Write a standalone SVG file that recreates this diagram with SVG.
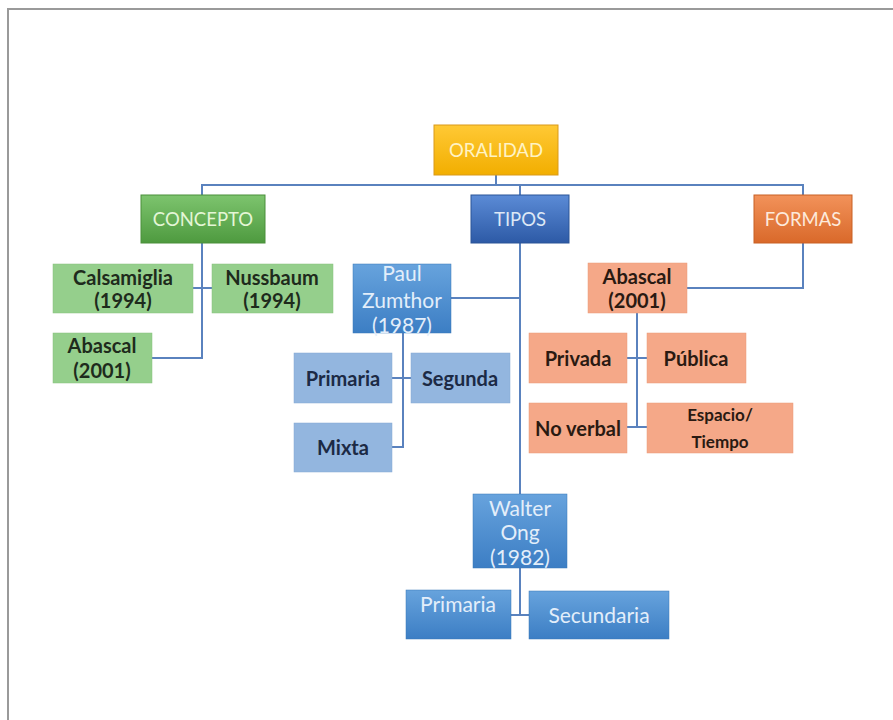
<svg xmlns="http://www.w3.org/2000/svg" width="893" height="720" viewBox="0 0 893 720">
<defs>
<linearGradient id="gYel" x1="0" y1="0" x2="0" y2="1"><stop offset="0" stop-color="#FFC935"/><stop offset="1" stop-color="#F2AE00"/></linearGradient>
<linearGradient id="gGrn" x1="0" y1="0" x2="0" y2="1"><stop offset="0" stop-color="#7DC46E"/><stop offset="1" stop-color="#4E9A3F"/></linearGradient>
<linearGradient id="gBlu" x1="0" y1="0" x2="0" y2="1"><stop offset="0" stop-color="#5B8BD6"/><stop offset="1" stop-color="#2D5AA6"/></linearGradient>
<linearGradient id="gOrg" x1="0" y1="0" x2="0" y2="1"><stop offset="0" stop-color="#F2925A"/><stop offset="1" stop-color="#D9692A"/></linearGradient>
<linearGradient id="gMid" x1="0" y1="0" x2="0" y2="1"><stop offset="0" stop-color="#67A3DD"/><stop offset="1" stop-color="#3C7EC4"/></linearGradient>
<style>
text{font-family:Lato,"Open Sans","Liberation Sans",sans-serif;text-anchor:middle;dominant-baseline:central}
.hd{font-size:18.5px}
.yel{fill:url(#gYel);stroke:#D99A1A;stroke-width:1}
.grnH{fill:url(#gGrn);stroke:#4A8F3B;stroke-width:1}
.bluH{fill:url(#gBlu);stroke:#2B5597;stroke-width:1}
.orgH{fill:url(#gOrg);stroke:#C86024;stroke-width:1}
.mid{fill:url(#gMid);stroke:#3A78B8;stroke-width:0.5}
.grn{fill:#95CF8C;stroke:#86C07C;stroke-width:0.5}
.lbl{fill:#93B6DF;stroke:#85A8D2;stroke-width:0.5}
.sal{fill:#F5A888;stroke:#E99A7A;stroke-width:0.5}
.dk{fill:#1E2B1C;font-size:20px;font-weight:bold}
.nv{fill:#1C2A45;font-size:20px;font-weight:bold}
.br{fill:#2A1A12;font-size:20px;font-weight:bold}
.wt{fill:#E3EEFA;font-size:21px}
.conn line,.conn polyline{stroke:#5A82BE;stroke-width:2;fill:none}
</style>
</defs>
<rect x="0" y="0" width="893" height="720" fill="#FFFFFF"/>
<polyline points="8,720 8,9 893,9" fill="none" stroke="#9A9A9A" stroke-width="2"/>

<g class="conn" id="connectors">
<line x1="496" y1="175" x2="496" y2="185"/>
<polyline points="202,195 202,185 803,185 803,195"/>
<line x1="520" y1="185" x2="520" y2="195"/>
<polyline points="202,243 202,358 152,358"/>
<line x1="193" y1="288" x2="212" y2="288"/>
<line x1="520" y1="243" x2="520" y2="494"/>
<line x1="451" y1="298" x2="520" y2="298"/>
<polyline points="403,333 403,447 392,447"/>
<line x1="392" y1="378" x2="411" y2="378"/>
<polyline points="803,243 803,288 687,288"/>
<line x1="637" y1="313" x2="637" y2="427"/>
<line x1="627" y1="358" x2="647" y2="358"/>
<line x1="627" y1="427" x2="647" y2="427"/>
<line x1="520" y1="568" x2="520" y2="615"/>
<line x1="511" y1="615" x2="529" y2="615"/>
</g>

<g id="oralidad"><rect class="yel" x="434" y="125" width="124" height="50"/><text class="hd" x="496" y="150" fill="#FFF3C4">ORALIDAD</text></g>
<g id="concepto"><rect class="grnH" x="141" y="195" width="124" height="48"/><text class="hd" x="203" y="219" fill="#E4F6D6">CONCEPTO</text></g>
<g id="tipos"><rect class="bluH" x="471" y="195" width="98" height="48"/><text class="hd" x="520" y="219" fill="#DDE8F6">TIPOS</text></g>
<g id="formas"><rect class="orgH" x="754" y="195" width="98" height="48"/><text class="hd" x="803" y="219" fill="#FDEADB">FORMAS</text></g>

<g id="calsamiglia"><rect class="grn" x="53" y="264" width="140" height="49"/><text class="dk" x="123" y="277">Calsamiglia</text><text class="dk" x="123" y="300">(1994)</text></g>
<g id="nussbaum"><rect class="grn" x="212" y="264" width="121" height="49"/><text class="dk" x="272" y="277">Nussbaum</text><text class="dk" x="272" y="300">(1994)</text></g>
<g id="abascal-c"><rect class="grn" x="53" y="333" width="99" height="50"/><text class="dk" x="102" y="345">Abascal</text><text class="dk" x="102" y="370">(2001)</text></g>

<g id="zumthor"><rect class="mid" x="353" y="264" width="98" height="69"/><text class="wt" x="402" y="272">Paul</text><text class="wt" x="402" y="299">Zumthor</text><text class="wt" x="402" y="324">(1987)</text></g>
<g id="primaria-z"><rect class="lbl" x="294" y="353" width="98" height="50"/><text class="nv" x="343" y="378">Primaria</text></g>
<g id="segunda"><rect class="lbl" x="411" y="353" width="99" height="50"/><text class="nv" x="460" y="378">Segunda</text></g>
<g id="mixta"><rect class="lbl" x="294" y="423" width="98" height="49"/><text class="nv" x="343" y="447">Mixta</text></g>

<g id="abascal-f"><rect class="sal" x="588" y="263" width="99" height="50"/><text class="br" x="637" y="276">Abascal</text><text class="br" x="637" y="300">(2001)</text></g>
<g id="privada"><rect class="sal" x="529" y="333" width="98" height="50"/><text class="br" x="578" y="358">Privada</text></g>
<g id="publica"><rect class="sal" x="647" y="333" width="99" height="50"/><text class="br" x="696" y="358">Pública</text></g>
<g id="noverbal"><rect class="sal" x="529" y="403" width="98" height="50"/><text class="br" x="578" y="428">No verbal</text></g>
<g id="espacio"><rect class="sal" x="647" y="403" width="146" height="50"/><text class="br" x="720" y="414" style="font-size:17px">Espacio/</text><text class="br" x="720" y="441" style="font-size:17px">Tiempo</text></g>

<g id="walterong"><rect class="mid" x="473" y="494" width="94" height="74"/><text class="wt" x="520" y="507">Walter</text><text class="wt" x="520" y="531">Ong</text><text class="wt" x="520" y="556">(1982)</text></g>
<g id="primaria-w"><rect class="mid" x="406" y="590" width="105" height="49"/><text class="wt" x="458" y="603">Primaria</text></g>
<g id="secundaria"><rect class="mid" x="529" y="591" width="140" height="48"/><text class="wt" x="599" y="614">Secundaria</text></g>
</svg>
